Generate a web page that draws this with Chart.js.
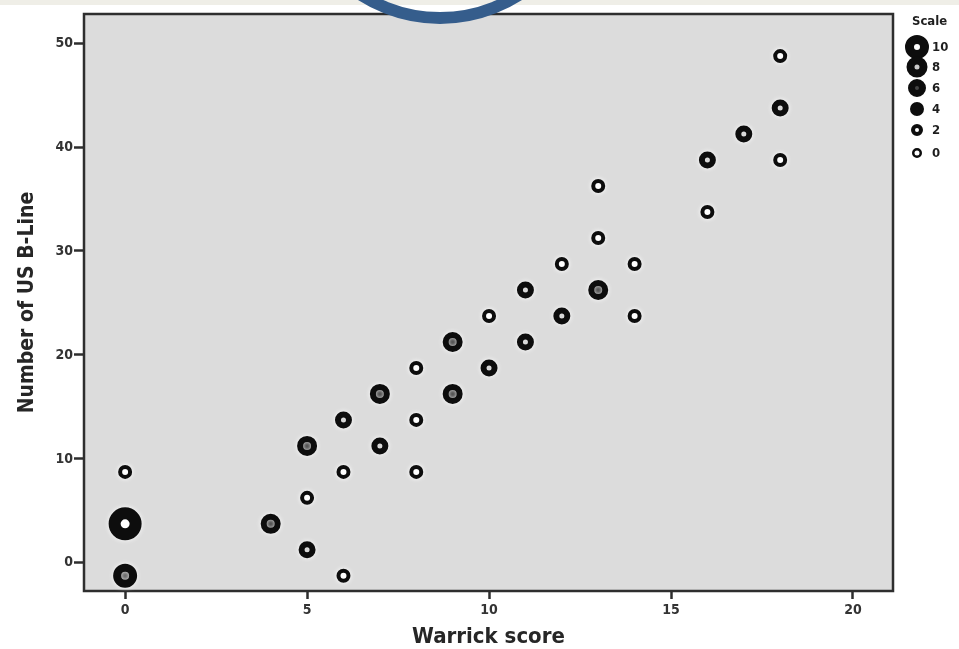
<!DOCTYPE html>
<html>
<head>
<meta charset="utf-8">
<script src="https://cdn.jsdelivr.net/npm/chart.js@4.4.1/dist/chart.umd.min.js"></script>
<style>
  html, body { margin: 0; padding: 0; background: #ffffff; }
  #wrap { width: 959px; height: 649px; }
</style>
</head>
<body>
<div id="wrap"><canvas id="bubbleChart" width="959" height="649"></canvas></div>
<script>
// values
const warrick = [0, 0, 0, 4, 5, 5, 5, 6, 6, 6, 7, 7, 8, 8, 8, 9, 9, 10, 10, 11, 11, 12, 12, 13, 13, 13, 14, 14, 16, 16, 17, 18, 18, 18];
const bLines = [8.75, 3.75, -1.25, 3.75, 11.25, 6.25, 1.25, 13.75, 8.75, -1.25, 16.25, 11.25, 18.75, 13.75, 8.75, 21.25, 16.25, 23.75, 18.75, 26.25, 21.25, 28.75, 23.75, 36.25, 31.25, 26.25, 28.75, 23.75, 38.75, 33.75, 41.25, 48.75, 43.75, 38.75];
const scaleVal = [0, 10, 6, 4, 4, 0, 2, 2, 0, 0, 4, 2, 0, 0, 0, 4, 4, 0, 2, 2, 2, 0, 2, 0, 0, 4, 0, 0, 2, 0, 2, 0, 2, 0];
const scaleLevels = [10, 8, 6, 4, 2, 0];
const xTicks = [0, 5, 10, 15, 20];
const yTicks = [0, 10, 20, 30, 40, 50];

const FONT = "'DejaVu Sans Condensed', 'DejaVu Sans', sans-serif";

// ring look of each scale level, in the plot and in the key
const pointLook = {
    0: { r: 5, w: 4, fill: '#ffffff' },
    2: { r: 5.5, w: 6, fill: '#9a9a9a' },
    4: { r: 7, w: 6, fill: '#1a1a1a' },
    6: { r: 8, w: 8, fill: '#3a3a3a' },
    8: { r: 9.5, w: 9, fill: '#bbbbbb' },
    10: { r: 10.5, w: 12, fill: '#ffffff' }
};
const keyLook = {
    10: { r: 7.5, w: 9, fill: '#ffffff' },
    8: { r: 6.5, w: 8, fill: '#cccccc' },
    6: { r: 5.5, w: 7, fill: '#444444' },
    4: { r: 4, w: 6, fill: '#111111' },
    2: { r: 4, w: 4, fill: '#ffffff' },
    0: { r: 3.75, w: 2.5, fill: '#ffffff' }
};

const points = warrick.map((x, i) => ({ x: x, y: bLines[i], s: scaleVal[i] }));

const datasets = scaleLevels
    .filter(lv => scaleVal.includes(lv))
    .map(lv => ({
        label: String(lv),
        data: points.filter(p => p.s === lv),
        pointRadius: pointLook[lv].r,
        pointHoverRadius: pointLook[lv].r,
        borderWidth: pointLook[lv].w,
        hoverBorderWidth: pointLook[lv].w,
        backgroundColor: pointLook[lv].fill,
        borderColor: '#0d0d0d'
    }));

// page background, grey plot panel, frame, halo, key and the blue ring on top
const panelPlugin = {
    id: 'panel',
    beforeDraw(chart) {
        const { ctx, chartArea: a } = chart;
        ctx.save();
        ctx.fillStyle = '#ffffff';
        ctx.fillRect(0, 0, chart.width, chart.height);
        ctx.fillStyle = '#efeee7';
        ctx.fillRect(0, 0, chart.width, 5);
        ctx.fillStyle = '#dcdcdc';
        ctx.fillRect(a.left, a.top, a.right - a.left, a.bottom - a.top);
        ctx.restore();
    },
    beforeDatasetsDraw(chart) {
        const { ctx, chartArea: a } = chart;
        ctx.save();
        ctx.strokeStyle = '#2e2e2e';
        ctx.lineWidth = 2.5;
        ctx.strokeRect(a.left, a.top, a.right - a.left, a.bottom - a.top);
        ctx.restore();
        ctx.save();
        ctx.shadowColor = 'rgba(255,255,255,0.95)';
        ctx.shadowBlur = 5;
    },
    afterDatasetsDraw(chart) {
        chart.ctx.restore();
    },
    afterDraw(chart) {
        const ctx = chart.ctx;
        ctx.save();
        ctx.fillStyle = '#1e1e1e';
        ctx.font = 'bold 13px ' + FONT;
        ctx.textBaseline = 'middle';
        ctx.textAlign = 'left';
        ctx.fillText('Scale', 912, 22);
        scaleLevels.forEach((lv, i) => {
            const cy = [47, 67, 88, 109, 130, 153][i];
            const k = keyLook[lv];
            ctx.beginPath();
            ctx.arc(917, cy, k.r, 0, Math.PI * 2);
            ctx.fillStyle = k.fill;
            ctx.fill();
            ctx.lineWidth = k.w;
            ctx.strokeStyle = '#0d0d0d';
            ctx.stroke();
            ctx.fillStyle = '#1e1e1e';
            ctx.fillText(String(lv), 932, cy + 1);
        });
        // blue ring cut by the top edge
        ctx.beginPath();
        ctx.arc(440, -128, 146, 0, Math.PI * 2);
        ctx.lineWidth = 12;
        ctx.strokeStyle = '#355d8c';
        ctx.stroke();
        ctx.restore();
    }
};

const ctx = document.getElementById('bubbleChart').getContext('2d');
new Chart(ctx, {
    type: 'scatter',
    data: { datasets: datasets },
    options: {
        responsive: false,
        animation: false,
        events: [],
        layout: { autoPadding: false, padding: { top: 14, right: 66, left: 0, bottom: 0 } },
        plugins: {
            legend: { display: false },
            tooltip: { enabled: false }
        },
        scales: {
            x: {
                type: 'linear',
                min: -1.13,
                max: 21.1,
                afterFit(s) { s.height = 58; s.paddingLeft = 0; s.paddingRight = 0; },
                afterBuildTicks(s) { s.ticks = xTicks.map(v => ({ value: v })); },
                border: { display: false },
                grid: { drawOnChartArea: false, drawTicks: true, tickLength: 8, tickWidth: 2.5, tickColor: '#2e2e2e' },
                ticks: { padding: 3, color: '#333333', font: { family: FONT, size: 14, weight: 'bold' } },
                title: {
                    display: true,
                    text: 'Warrick score',
                    color: '#262626',
                    padding: { top: 0, bottom: 1 },
                    font: { family: FONT, size: 22, weight: 'bold', lineHeight: 1 }
                }
            },
            y: {
                type: 'linear',
                min: -2.71,
                max: 52.8,
                afterFit(s) { s.width = 84; s.paddingTop = 0; s.paddingBottom = 0; },
                afterBuildTicks(s) { s.ticks = yTicks.map(v => ({ value: v })); },
                border: { display: false },
                grid: { drawOnChartArea: false, drawTicks: true, tickLength: 10, tickWidth: 2.5, tickColor: '#2e2e2e' },
                ticks: { padding: 1, color: '#333333', font: { family: FONT, size: 14, weight: 'bold' } },
                title: {
                    display: true,
                    text: 'Number of US B-Line',
                    color: '#262626',
                    padding: { top: 17.5, bottom: 0 },
                    font: { family: FONT, size: 21, weight: 'bold', lineHeight: 1 }
                }
            }
        }
    },
    plugins: [panelPlugin]
});
</script>
</body>
</html>
